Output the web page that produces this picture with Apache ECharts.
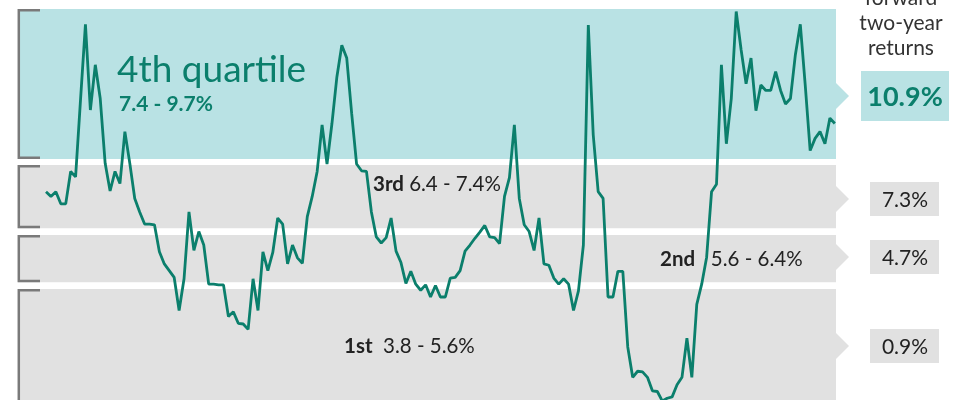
<!DOCTYPE html>
<html>
<head>
<meta charset="utf-8">
<title>forward two-year returns</title>
<script src="https://cdn.jsdelivr.net/npm/echarts@6.0.0/dist/echarts.min.js"></script>
<style>
    html, body {
        margin: 0;
        padding: 0;
        background: #fff;
    }
    #chart {
        width: 963px;
        height: 400px;
    }
</style>
</head>
<body>
<div id="chart"></div>
<script>
// rolling valuation series (%), one point per period
const values = [
    6.96, 6.89, 6.96, 6.78, 6.78, 7.26, 7.18, 8.32, 9.44, 8.17,
    8.84, 8.34, 7.38, 6.97, 7.26, 7.08, 7.85, 7.38, 6.86, 6.66,
    6.48, 6.48, 6.47, 6.07, 5.89, 5.79, 5.69, 5.20, 5.67, 6.66,
    6.09, 6.37, 6.17, 5.59, 5.59, 5.58, 5.58, 5.11, 5.18, 5.01,
    5.00, 4.92, 5.67, 5.20, 6.07, 5.79, 6.06, 6.57, 6.48, 5.89,
    6.17, 5.98, 5.90, 6.59, 6.89, 7.26, 7.95, 7.37, 7.97, 8.66,
    9.13, 8.94, 8.12, 7.37, 7.27, 7.26, 6.66, 6.29, 6.20, 6.28,
    6.57, 6.08, 5.91, 5.60, 5.78, 5.59, 5.50, 5.58, 5.40, 5.57,
    5.40, 5.40, 5.68, 5.69, 5.79, 6.08, 6.17, 6.27, 6.36, 6.46,
    6.29, 6.28, 6.19, 6.89, 7.17, 7.95, 6.86, 6.47, 6.37, 6.09,
    6.57, 5.89, 5.87, 5.68, 5.59, 5.67, 5.59, 5.20, 5.49, 6.17,
    9.43, 7.80, 6.96, 6.86, 5.40, 5.40, 5.78, 5.78, 4.66, 4.21,
    4.30, 4.29, 4.21, 4.01, 4.00, 3.86, 3.90, 3.92, 4.10, 4.21,
    4.79, 4.21, 5.29, 5.59, 5.99, 6.96, 7.07, 8.84, 7.67, 8.34,
    9.63, 9.06, 8.56, 8.94, 8.16, 8.54, 8.46, 8.46, 8.74, 8.46,
    8.26, 8.34, 8.99, 9.44, 8.54, 7.57, 7.75, 7.85, 7.67, 8.05,
    7.97
]

// quartile bands as drawn (bottom -> top)
const bandNames = ['1st', '2nd', '3rd', '4th quartile']
const bandRanges = ['3.8 - 5.6%', '5.6 - 6.4%', '6.4 - 7.4%', '7.4 - 9.7%']
const bandLow = [3.8, 5.62, 6.42, 7.444]
const bandHigh = [5.52, 6.32, 7.356, 9.667]
const bandReturns = ['0.9%', '4.7%', '7.3%', '10.9%']

const teal = '#0b7f6c'
const tealBg = '#b9e2e4'
const greyBg = '#e1e1e1'
const bracket = '#7a7a7a'
const font = 'Lato, "Noto Sans", sans-serif'

const chart = echarts.init(document.getElementById('chart'))

const bandData = bandLow.map((lo, i) => [lo, bandHigh[i], i])
const lineData = values.map((v, i) => [i, v])

function renderBand(params, api) {
    const cs = params.coordSys
    const lo = api.value(0)
    const hi = api.value(1)
    const idx = api.value(2)
    const top = api.coord([0, hi])[1]
    const bot = api.coord([0, lo])[1]
    const fill = idx === 3 ? tealBg : greyBg
    return {
        type: 'group',
        children: [
            {
                type: 'rect',
                shape: { x: cs.x, y: top, width: cs.width, height: bot - top },
                style: { fill: fill }
            },
            // bracket on the left
            {
                type: 'polyline',
                shape: {
                    points: [
                        [cs.x + 22, top + 1.25],
                        [cs.x + 0.8, top + 1.25],
                        [cs.x + 0.8, bot - 1.25],
                        [cs.x + 22, bot - 1.25]
                    ]
                },
                style: { stroke: bracket, lineWidth: 2.5, fill: null }
            }
        ]
    }
}

// label boxes on the right: [centre y, text, band index]
const boxes = [
    [96, bandReturns[3], 3],
    [199, bandReturns[2], 2],
    [257, bandReturns[1], 1],
    [346, bandReturns[0], 0]
]

const graphics = []
boxes.forEach(b => {
    const cy = b[0]
    const isTop = b[2] === 3
    const fill = isTop ? tealBg : greyBg
    graphics.push({
        type: 'polygon',
        z: 100,
        shape: { points: [[835, cy - 14], [849, cy], [835, cy + 14]] },
        style: { fill: fill }
    })
    graphics.push({
        type: 'rect',
        z: 100,
        shape: isTop
            ? { x: 861, y: cy - 25, width: 88, height: 50 }
            : { x: 870, y: cy - 17, width: 69, height: 34 },
        style: { fill: fill }
    })
    graphics.push({
        type: 'text',
        z: 101,
        x: 905,
        y: cy + 1,
        style: {
            text: b[1],
            font: (isTop ? 'bold 27px ' : '21px ') + font,
            fill: isTop ? teal : '#222',
            textAlign: 'center',
            textVerticalAlign: 'middle'
        }
    })
})

// header over the boxes
graphics.push({
    type: 'text',
    z: 100,
    x: 901,
    y: -14,
    style: {
        text: 'forward\ntwo-year\nreturns',
        font: '21px ' + font,
        lineHeight: 25,
        fill: '#333',
        textAlign: 'center',
        textVerticalAlign: 'top'
    }
})

// band titles
graphics.push({
    type: 'text',
    z: 100,
    x: 117,
    y: 89,
    style: {
        text: bandNames[3],
        font: 'normal 37px ' + font,
        fill: teal,
        textVerticalAlign: 'bottom'
    }
})
graphics.push({
    type: 'text',
    z: 100,
    x: 119,
    y: 104,
    style: {
        text: bandRanges[3],
        font: 'bold 21px ' + font,
        fill: teal,
        textVerticalAlign: 'middle'
    }
})

const rich = {
    b: { font: 'bold 20.5px ' + font, fill: '#222' },
    r: { font: '20.5px ' + font, fill: '#222' }
}
const inline = [
    [373, 184, 2, ' '],
    [660, 259, 1, '   '],
    [344, 346, 0, '  ']
]
inline.forEach(t => {
    graphics.push({
        type: 'text',
        z: 100,
        x: t[0],
        y: t[1],
        style: {
            text: '{b|' + bandNames[t[2]] + '}{r|' + t[3] + bandRanges[t[2]] + '}',
            rich: rich,
            textVerticalAlign: 'middle'
        }
    })
})

const option = {
    animation: false,
    grid: { left: 18, right: 127, top: 0, bottom: 0 },
    xAxis: {
        type: 'value',
        min: -5.68,
        max: 160.24,
        show: false
    },
    yAxis: {
        type: 'value',
        min: 3.874,
        max: 9.8,
        show: false
    },
    series: [
        {
            type: 'custom',
            name: 'bands',
            renderItem: renderBand,
            data: bandData,
            z: 1,
            silent: true
        },
        {
            type: 'line',
            name: 'series',
            data: lineData,
            showSymbol: false,
            clip: true,
            lineStyle: { color: teal, width: 2.8 },
            z: 3
        }
    ],
    graphic: graphics
}

chart.setOption(option)
</script>
</body>
</html>
